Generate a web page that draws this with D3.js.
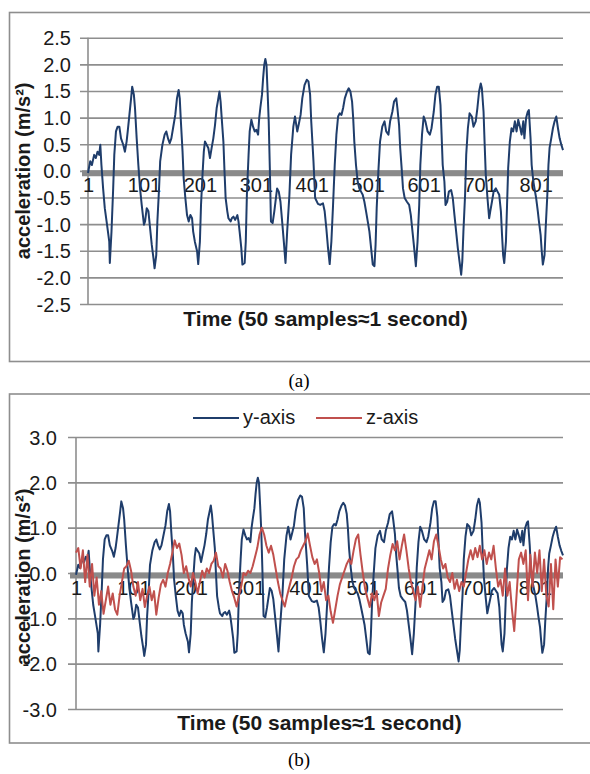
<!DOCTYPE html>
<html><head><meta charset="utf-8">
<script src="https://cdn.jsdelivr.net/npm/d3@7"></script>
<style>body{margin:0;background:#fff}svg{display:block}</style>
</head><body><svg id="c" width="590" height="774"></svg>
<script>
// ---------------- data ----------------
const sampleCount = 850;
const xTickLabels = [1, 101, 201, 301, 401, 501, 601, 701, 801];
const yTicksA = [2.5, 2.0, 1.5, 1.0, 0.5, 0.0, -0.5, -1.0, -1.5, -2.0, -2.5];
const yTicksB = [3.0, 2.0, 1.0, 0.0, -1.0, -2.0, -3.0];
const seriesNames = ["y-axis", "z-axis"];
const seriesColors = ["#1F3D6B", "#C0504D"];
const captions = ["(a)", "(b)"];
const yTitle = "acceleration (m/s²)";
const xTitle = "Time (50 samples≈1 second)";

// y-axis acceleration: sample index / value
const ySamples = [1,5,8,12,15,18,21,23,25,28,31,35,39,40,43,46,48,51,54,57,60,64,67,70,72,75,78,80,83,85,88,91,94,97,101,103,106,109,112,115,118,120,123,125,128,130,134,138,141,144,147,150,153,157,160,163,165,167,170,172,175,178,181,184,187,189,192,196,198,201,203,206,208,210,213,216,219,222,225,228,231,233,236,238,240,243,245,247,250,252,256,258,261,264,268,270,272,275,277,281,283,285,288,290,293,296,299,302,305,307,309,312,314,316,318,320,322,324,326,328,331,334,339,342,345,348,351,354,357,361,364,368,371,375,378,381,384,388,392,395,398,400,404,407,412,416,421,424,427,430,433,436,439,442,445,448,451,454,457,460,464,467,470,473,475,477,480,483,486,489,492,495,498,501,504,507,510,513,515,517,520,523,527,531,534,538,541,545,548,552,554,557,559,562,564,567,571,575,578,581,584,587,590,593,595,598,601,604,608,612,615,619,622,625,628,631,633,635,638,640,643,646,650,653,656,659,662,665,668,670,672,675,677,680,683,687,690,694,697,700,703,705,708,710,712,715,718,720,723,726,730,733,736,739,741,743,745,748,750,752,755,758,761,764,767,770,773,776,779,781,784,787,789,792,794,797,799,802,805,807,810,812,814,817,819,822,824,826,829,832,835,838,841,844,847,850];
const yValues = [-0.04,0.18,0.11,0.30,0.24,0.36,0.30,0.49,0.11,-0.33,-0.70,-1.01,-1.33,-1.73,-1.14,-0.33,0.30,0.74,0.83,0.83,0.61,0.49,0.36,0.55,0.74,1.05,1.36,1.58,1.43,1.18,0.61,0.11,-0.33,-0.64,-1.01,-0.95,-0.70,-0.76,-1.08,-1.39,-1.64,-1.83,-1.58,-0.95,-0.33,0.18,0.49,0.68,0.74,0.61,0.52,0.61,0.80,1.05,1.36,1.52,1.36,0.93,0.36,-0.14,-0.51,-0.83,-0.95,-0.83,-0.89,-1.14,-1.33,-1.51,-1.75,-1.33,-0.64,-0.01,0.36,0.55,0.49,0.43,0.24,0.43,0.61,0.86,1.18,1.30,1.49,1.30,0.99,0.55,-0.01,-0.51,-0.76,-0.89,-0.95,-0.89,-0.86,-0.92,-0.83,-0.95,-1.14,-1.45,-1.76,-1.73,-1.33,-0.45,0.30,0.74,0.96,0.83,0.74,0.77,0.68,0.99,1.18,1.43,1.74,1.99,2.10,1.99,1.49,0.93,0.05,-0.95,-0.98,-0.76,-0.33,-0.39,-0.58,-0.95,-1.33,-1.73,-1.14,-0.45,0.30,0.83,1.02,0.74,0.89,1.05,1.36,1.61,1.71,1.68,1.43,0.93,0.18,-0.51,-0.62,-0.64,-0.61,-0.76,-1.08,-1.45,-1.75,-1.33,-0.64,0.11,0.68,1.02,1.08,1.05,1.18,1.36,1.49,1.55,1.49,1.30,0.99,0.55,0.11,-0.20,-0.33,-0.39,-0.45,-0.58,-0.76,-0.95,-1.14,-1.45,-1.76,-1.79,-1.39,-0.70,-0.01,0.55,0.83,0.93,0.74,0.68,0.93,1.11,1.30,1.36,1.18,0.86,0.43,-0.01,-0.33,-0.51,-0.58,-0.64,-0.83,-1.14,-1.45,-1.79,-1.33,-0.64,0.11,0.68,1.02,0.93,0.74,0.68,0.80,1.11,1.43,1.58,1.58,1.24,0.68,0.11,-0.20,-0.64,-0.58,-0.39,-0.36,-0.51,-0.83,-1.14,-1.45,-1.70,-1.95,-1.70,-1.14,-0.45,0.30,0.80,1.08,1.02,0.83,0.93,1.18,1.49,1.64,1.55,1.11,0.49,-0.08,-0.51,-0.89,-0.76,-0.58,-0.39,-0.33,-0.39,-0.45,-0.76,-1.20,-1.58,-1.73,-1.33,-0.64,0.05,0.55,0.80,0.74,0.93,0.74,0.96,0.83,0.68,0.93,0.61,0.99,1.11,1.14,0.61,0.11,-0.20,-0.33,-0.51,-0.76,-0.95,-1.20,-1.51,-1.76,-1.58,-1.08,-0.45,0.11,0.43,0.61,0.80,0.93,1.02,0.80,0.61,0.49,0.39];

// z-axis acceleration: one reading every 4 samples (1, 5, 9, ... 849)
const zValues = [
  0.45,0.55,0.1,0.5,-0.2,0.4,-0.3,0.2,-0.5,-0.1,
  -0.7,-0.4,-0.9,-0.6,-0.3,-0.7,-0.45,-0.8,-0.92,-0.5,
  -0.2,0.1,0.15,0.27,0.05,-0.3,-0.5,-0.2,-0.6,-0.35,
  -0.75,-0.5,-0.3,-0.6,-0.4,-0.92,-0.55,-0.25,-0.15,-0.3,
  0.0,0.2,0.45,0.72,0.55,0.65,0.4,0.0,0.15,-0.1,
  -0.3,0.0,-0.2,-0.45,-0.2,0.05,-0.1,0.1,0.0,0.2,
  0.27,0.45,0.15,0.1,-0.1,0.2,0.05,-0.2,-0.4,-0.55,
  -0.74,-0.5,-0.3,0.0,-0.05,0.05,0.0,0.15,0.35,0.55,
  0.85,1.0,0.85,0.6,0.45,0.6,0.4,0.1,-0.2,-0.45,
  -0.6,-0.74,-0.5,-0.3,-0.1,0.15,0.3,0.35,0.5,0.6,
  0.7,0.87,0.6,0.35,0.2,0.3,0.0,-0.4,-0.2,-0.6,
  -0.5,-0.85,-1.1,-0.8,-0.5,-0.25,-0.1,0.05,0.2,0.3,
  0.2,0.5,0.75,0.85,0.4,0.0,-0.35,-0.55,-0.75,-0.45,
  -0.6,-0.4,-0.95,-0.65,-0.5,-0.35,0.1,0.4,0.64,0.5,
  0.7,0.3,0.6,0.85,0.5,0.1,-0.2,-0.4,-0.6,-0.3,
  -0.75,-0.3,0.1,0.3,0.5,0.3,0.7,0.85,0.6,0.3,
  0.1,0.2,-0.1,-0.2,0.0,-0.35,-0.15,-0.4,-0.2,-0.3,
  0.0,0.3,0.5,0.3,0.55,0.35,0.6,0.3,0.5,0.2,
  0.45,0.3,0.6,0.1,-0.3,-0.15,-0.5,0.1,-0.5,-0.2,
  -0.8,-1.28,-0.5,0.3,0.45,0.2,0.5,-0.6,0.4,-0.3,
  0.45,0.0,0.5,-0.4,0.3,-0.5,-0.74,0.2,-0.8,0.3,
  -0.3,0.35,0.3
];
const zSamples = d3.range(1, sampleCount, 4);

// ---------------- drawing ----------------
const svg = d3.select("#c");
const FONT = "'Liberation Sans', Arial, sans-serif";
const gridColor = "#8e8e8e";
const textColor = "#1a1a1a";

const ySeries = ySamples.map((s, i) => ({s, v: yValues[i]}));
const zSeries = zSamples.map((s, i) => ({s, v: zValues[i]}));

function panel(cfg) {
  const g = svg.append("g");
  // outer frame
  g.append("rect").attr("x", 9.5).attr("y", cfg.frameTop + 0.5)
    .attr("width", 600).attr("height", cfg.frameBottom - cfg.frameTop)
    .attr("fill", "none").attr("stroke", gridColor).attr("stroke-width", 1.6);

  const x = d3.scaleLinear().domain([1, sampleCount]).range([cfg.left, cfg.right]);
  const y = d3.scaleLinear().domain(cfg.yDomain).range([cfg.bottom, cfg.top]);

  // y axis with grid
  const ya = g.append("g").attr("transform", `translate(${cfg.left},0)`)
    .call(d3.axisLeft(y).tickValues(cfg.yTicks).tickFormat(v => v.toFixed(1)).tickSize(0));
  ya.select(".domain").remove();
  ya.selectAll(".tick line").attr("x1", -8).attr("x2", cfg.right - cfg.left)
    .attr("stroke", gridColor).attr("stroke-width", 1.6);
  ya.selectAll(".tick text").attr("x", cfg.labelRight - cfg.left).attr("dy", "0.35em")
    .attr("fill", textColor).style("font-family", FONT).style("font-size", "20px");
  // vertical axis line
  g.append("line").attr("x1", cfg.left).attr("x2", cfg.left)
    .attr("y1", cfg.top).attr("y2", cfg.bottom)
    .attr("stroke", gridColor).attr("stroke-width", 1.6);

  // x axis at zero (thick gray band)
  const xa = g.append("g").attr("transform", `translate(0,${y(0) + 2.5})`)
    .call(d3.axisBottom(x).tickValues(xTickLabels).tickFormat(d3.format("d")).tickSize(0));
  xa.select(".domain").attr("d", `M${cfg.left - 6},0H${cfg.right}`)
    .attr("stroke", "#8a8a8a").attr("stroke-width", 6);
  xa.selectAll(".tick text").attr("y", 0).attr("dy", cfg.xLabelDy)
    .attr("fill", textColor).style("font-family", FONT).style("font-size", "20px");

  // series
  cfg.series.forEach(sr => {
    g.append("path").datum(sr.data)
      .attr("fill", "none").attr("stroke", sr.color).attr("stroke-width", 2)
      .attr("stroke-linejoin", "round")
      .attr("d", d3.line().x(d => x(d.s)).y(d => y(d.v)));
  });

  // axis titles
  g.append("text").attr("transform", `translate(${cfg.yTitleX},${(cfg.top + cfg.bottom) / 2 + cfg.yTitleShift}) rotate(-90)`)
    .attr("text-anchor", "middle").attr("fill", textColor)
    .style("font-family", FONT).style("font-size", "20px").style("font-weight", "bold")
    .text(yTitle);
  g.append("text").attr("x", (cfg.left + cfg.right) / 2).attr("y", cfg.xTitleY)
    .attr("text-anchor", "middle").attr("fill", textColor)
    .style("font-family", FONT).style("font-size", "21px").style("font-weight", "bold")
    .text(xTitle);

  // caption
  svg.append("text").attr("x", 299).attr("y", cfg.captionY).attr("text-anchor", "middle")
    .attr("fill", "#000").style("font-family", "'Liberation Serif', 'Times New Roman', serif")
    .style("font-size", "19px").text(cfg.caption);
  return {x, y, g};
}

panel({
  frameTop: 12, frameBottom: 361, left: 88, right: 563, top: 37.7, bottom: 304,
  yDomain: [-2.5, 2.5], yTicks: yTicksA, labelRight: 71, xLabelDy: 19,
  yTitleX: 30, yTitleShift: 0, xTitleY: 326, captionY: 387, caption: captions[0],
  series: [{data: ySeries, color: seriesColors[0]}]
});

panel({
  frameTop: 393.5, frameBottom: 742.5, left: 76, right: 563, top: 437, bottom: 709,
  yDomain: [-3, 3], yTicks: yTicksB, labelRight: 57, xLabelDy: 19,
  yTitleX: 30, yTitleShift: 4, xTitleY: 730, captionY: 766, caption: captions[1],
  series: [{data: ySeries, color: seriesColors[0]}, {data: zSeries, color: seriesColors[1]}]
});

// legend for (b)
const legendX = [193, 316];
seriesNames.forEach((name, i) => {
  const lg = svg.append("g").attr("transform", `translate(${legendX[i]},418)`);
  lg.append("line").attr("x1", 0).attr("x2", 46).attr("y1", 0).attr("y2", 0)
    .attr("stroke", seriesColors[i]).attr("stroke-width", 2);
  lg.append("text").attr("x", 50).attr("y", 0).attr("dy", "0.32em")
    .attr("fill", textColor).style("font-family", FONT).style("font-size", "20px")
    .text(name);
});
</script>
</body></html>
